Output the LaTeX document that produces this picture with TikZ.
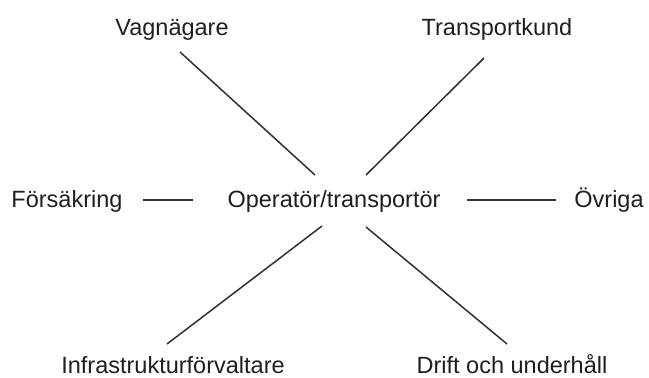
\documentclass[tikz,border=0pt]{standalone}
\usepackage{fontspec}
\setmainfont{Liberation Sans}
\definecolor{txt}{HTML}{1E1E1E}
\definecolor{ln}{HTML}{303030}
\begin{document}
\begin{tikzpicture}[x=1pt,y=-1pt,
  lbl/.style={inner sep=0pt,anchor=base,text=txt,font=\fontsize{23.5}{28}\selectfont},
  conn/.style={draw=ln,line width=1.5pt}]
\useasboundingbox (0,0) rectangle (649,378);
\node[lbl] (vag) at (172,35) {Vagnägare};
\node[lbl] (tk) at (497,35) {Transportkund};
\node[lbl] (fs) at (67,207) {Försäkring};
\node[lbl] (op) at (334,207) {Operatör/transportör};
\node[lbl] (ov) at (609,207) {Övriga};
\node[lbl] (inf) at (173,373) {Infrastrukturförvaltare};
\node[lbl] (dr) at (512,373) {Drift och underhåll};
\coordinate (vagE) at (180,52);
\coordinate (opVag) at (315,175);
\coordinate (tkE) at (484,58);
\coordinate (opTk) at (366,175);
\coordinate (fsE) at (143,200);
\coordinate (opFs) at (193,200);
\coordinate (opOv) at (467,200);
\coordinate (ovE) at (556,200);
\coordinate (opInf) at (322,226);
\coordinate (infE) at (167,344);
\coordinate (opDr) at (366,227);
\coordinate (drE) at (507,344);
\draw[conn] (vagE) -- (opVag);
\draw[conn] (tkE) -- (opTk);
\draw[conn] (fsE) -- (opFs);
\draw[conn] (opOv) -- (ovE);
\draw[conn] (opInf) -- (infE);
\draw[conn] (opDr) -- (drE);
\end{tikzpicture}
\end{document}
